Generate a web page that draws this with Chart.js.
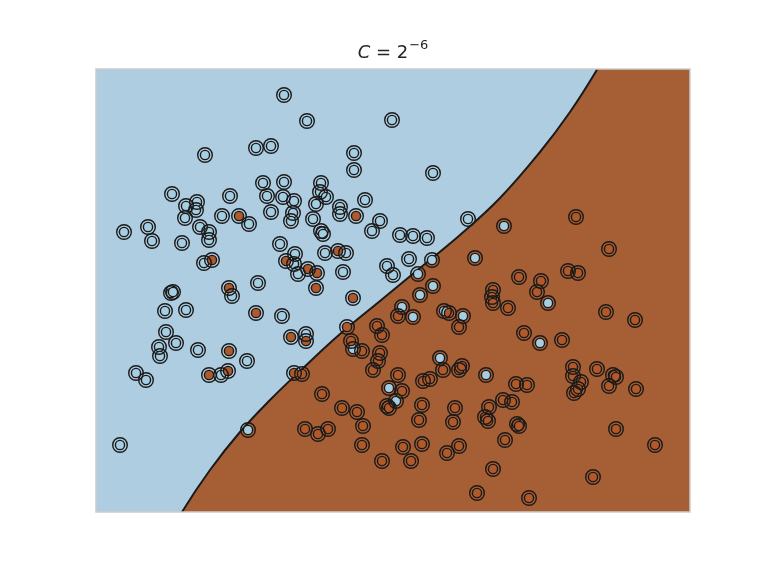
<!DOCTYPE html>
<html><head><meta charset="utf-8">
<script src="https://cdn.jsdelivr.net/npm/chart.js@4/dist/chart.umd.min.js"></script>
<style>html,body{margin:0;padding:0;background:#fff}canvas{display:block}</style>
</head><body>
<canvas id="c" width="768" height="576"></canvas>
<script>
// Class "blue" samples (feature 1, feature 2)
const blueX = [1.88,2.11,2.96,1.09,1.60,1.75,2.58,2.58,3.37,1.67,1.88,2.25,0.76,1.34,1.01,0.90,1.00,0.89,1.26,1.53,
  1.71,1.87,1.98,2.24,2.30,2.20,2.69,2.44,2.44,1.75,1.97,2.17,1.95,2.84,2.76,2.25,2.27,3.72,3.04,3.17,
  3.31,0.28,0.52,0.56,0.86,1.04,1.13,1.13,1.84,1.99,1.98,2.02,2.29,2.50,2.47,1.08,1.62,1.36,0.75,0.77,
  0.69,0.90,1.86,0.70,0.63,0.64,0.80,1.02,1.51,2.10,0.40,0.50,1.25,0.24,1.52,2.91,2.97,3.13,3.36,3.22,
  4.08,3.79,3.37,3.24,3.06,3.17,3.48,3.67,4.52,4.44,3.44,3.90,2.57,2.93,3.00];
const blueY = [4.17,3.91,3.92,3.57,3.64,3.66,3.59,3.42,3.39,3.29,3.30,3.29,3.18,3.16,3.10,3.06,3.02,2.94,2.96,2.88,
  3.16,3.15,3.11,3.20,3.15,3.08,3.12,3.05,2.98,3.00,2.99,2.93,2.91,2.91,2.81,2.81,2.78,2.93,2.77,2.76,
  2.74,2.80,2.85,2.71,2.69,2.85,2.80,2.72,2.68,2.58,2.48,2.38,2.59,2.59,2.40,2.49,2.29,2.16,2.19,2.20,
  2.01,2.02,1.96,1.80,1.65,1.56,1.69,1.62,1.51,1.78,1.39,1.32,1.37,0.67,0.82,2.46,2.37,2.53,2.52,2.38,
  2.86,2.54,2.26,2.17,2.05,1.95,2.01,1.96,2.09,1.69,1.54,1.37,1.63,1.24,1.11];
// Class "brown" samples
const brownX = [1.43,2.60,1.90,2.12,2.21,2.20,2.42,1.16,1.33,1.60,1.33,1.95,2.10,1.13,1.32,2.57,2.51,
  1.98,2.06,3.02,3.53,3.63,3.97,3.96,3.97,4.23,4.45,4.41,4.72,4.82,4.80,5.13,4.12,5.10,5.39,4.28,4.66,
  4.77,4.77,4.85,4.78,4.82,5.01,5.17,5.20,5.13,5.40,5.20,5.59,4.97,4.33,4.20,4.31,4.07,4.16,3.93,3.89,
  3.92,4.21,4.23,4.09,3.97,3.81,3.47,3.63,3.66,2.55,2.66,2.81,2.86,2.84,2.82,2.77,3.02,3.06,2.91,2.93,
  3.27,3.34,2.26,2.46,2.61,2.67,2.09,2.22,2.32,2.66,3.07,3.15,3.26,2.86,3.26,3.23,3.59,3.57,3.51,3.63];
const brownY = [2.96,2.96,2.51,2.43,2.39,2.24,2.61,2.52,2.24,1.99,1.61,1.75,1.71,1.37,1.41,2.14,1.85,
  1.39,1.38,1.96,1.99,1.85,2.22,2.15,2.09,2.35,2.31,2.20,2.41,2.39,2.95,2.63,2.04,2.00,1.92,1.79,1.72,
  1.45,1.36,1.30,1.19,1.23,1.43,1.37,1.35,1.26,1.23,0.83,0.67,0.35,0.14,1.28,1.27,1.12,1.10,1.05,0.95,
  0.91,0.88,0.86,0.72,0.43,0.19,1.42,1.42,1.46,1.71,1.61,1.86,1.77,1.59,1.51,1.42,1.37,1.21,1.06,1.04,
  1.31,1.33,1.18,1.04,1.00,0.86,0.83,0.78,0.83,0.67,0.65,0.51,0.68,0.51,1.07,0.92,1.04,0.90,0.59,0.66];
// Decision boundary
const boundaryX = [0.00,0.34,0.64,0.86,1.14,1.44,1.74,2.04,2.44,2.84,3.24,3.64,4.04,4.44,4.74,5.02,5.24,5.54];
const boundaryY = [-1.85,-1.03,-0.40,0.00,0.42,0.80,1.12,1.41,1.78,2.11,2.44,2.77,3.14,3.60,4.00,4.44,4.84,5.42];
const titleMain = 'C';
const titleMid = ' = 2';
const titleExp = '\u22126';

const toPts = (xs, ys) => xs.map((x, i) => ({x: x, y: ys[i]}));
const bluePts = toPts(blueX, blueY);
const brownPts = toPts(brownX, brownY);

const bgPlugin = {
  id: 'bg',
  beforeDatasetsDraw(chart) {
    const a = chart.chartArea, ctx = chart.ctx;
    ctx.save();
    ctx.fillStyle = '#a65e34';
    ctx.fillRect(a.left, a.top, a.right - a.left, a.bottom - a.top);
    ctx.restore();
  },
  afterDraw(chart) {
    const a = chart.chartArea, ctx = chart.ctx;
    ctx.save();
    ctx.strokeStyle = '#cccccc';
    ctx.lineWidth = 1.5;
    ctx.strokeRect(a.left, a.top, a.right - a.left, a.bottom - a.top);
    // title
    ctx.fillStyle = '#262626';
    ctx.textBaseline = 'alphabetic';
    const f1 = 'italic 18px "DejaVu Sans"', f2 = '18px "DejaVu Sans"', f3 = '13px "DejaVu Sans"';
    ctx.font = f1; const w1 = ctx.measureText(titleMain).width;
    ctx.font = f2; const w2 = ctx.measureText(titleMid).width;
    ctx.font = f3; const w3 = ctx.measureText(titleExp).width;
    const total = w1 + w2 + w3 + 1;
    let x = (a.left + a.right) / 2 - total / 2;
    const base = 58;
    ctx.font = f1; ctx.fillText(titleMain, x, base); x += w1;
    ctx.font = f2; ctx.fillText(titleMid, x, base); x += w2 + 1;
    ctx.font = f3; ctx.fillText(titleExp, x, base - 9);
    ctx.restore();
  }
};

new Chart(document.getElementById('c'), {
  type: 'scatter',
  data: {
    datasets: [
      {
        type: 'line', data: toPts(boundaryX, boundaryY), fill: 'end',
        backgroundColor: '#aecde1', borderColor: '#1a1a1a', borderWidth: 2,
        pointRadius: 0, tension: 0.4, order: 5
      },
      {
        data: bluePts, pointRadius: 4.6, backgroundColor: '#a6cee3',
        borderColor: '#1a1a1a', borderWidth: 1.4, order: 3
      },
      {
        data: brownPts, pointRadius: 4.6, backgroundColor: '#b15928',
        borderColor: '#1a1a1a', borderWidth: 1.4, order: 2
      },
      {
        data: bluePts.concat(brownPts), pointRadius: 7.3, backgroundColor: 'rgba(0,0,0,0)',
        borderColor: '#1a1a1a', borderWidth: 1.4, order: 1
      }
    ]
  },
  options: {
    responsive: false, devicePixelRatio: 1, animation: false, events: [],
    layout: {padding: {left: 96, top: 69, right: 78, bottom: 64}},
    plugins: {legend: {display: false}, tooltip: {enabled: false}, title: {display: false}},
    scales: {
      x: {type: 'linear', min: 0, max: 5.94, display: false},
      y: {type: 'linear', min: 0, max: 4.43, display: false}
    }
  },
  plugins: [bgPlugin]
});
</script>
</body></html>
